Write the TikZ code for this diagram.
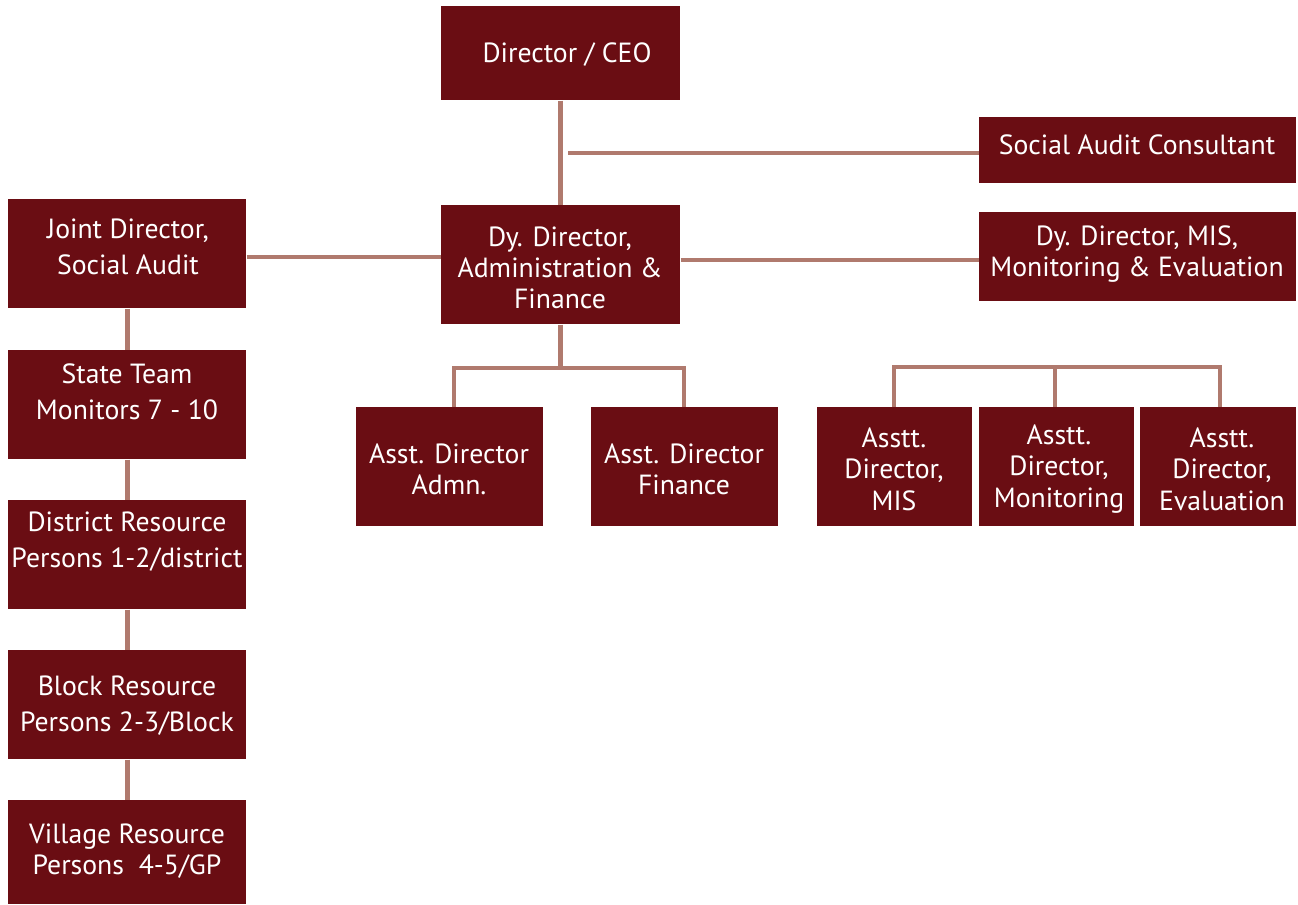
\documentclass[tikz,border=0pt]{standalone}
\usepackage{fontspec}
\setmainfont{PT Sans}
\definecolor{boxred}{HTML}{6A0D13}
\definecolor{linkred}{HTML}{B07A6E}
\tikzset{
  unit/.style={fill=boxred, inner sep=0pt, anchor=north west},
  txt/.style={text=white, align=center, font=\fontsize{20.8}{23.5}\selectfont},
  txtl/.style={txt, font=\fontsize{20.8}{27}\selectfont},
  link/.style={draw=linkred, line width=3.6pt}
}
\begin{document}
\begin{tikzpicture}[x=0.75pt, y=-0.75pt]
    \useasboundingbox (0,0) rectangle (1298,905);

    % boxes
    \node[unit, minimum width=239*0.75pt, minimum height=94*0.75pt] (ceo) at (441,6) {};
    \node[unit, minimum width=317*0.75pt, minimum height=66*0.75pt] (sac) at (979,117) {};
    \node[unit, minimum width=239*0.75pt, minimum height=119*0.75pt] (dyaf) at (441,205) {};
    \node[unit, minimum width=238*0.75pt, minimum height=109*0.75pt] (jd) at (8,199) {};
    \node[unit, minimum width=317*0.75pt, minimum height=89*0.75pt] (dymis) at (979,212) {};
    \node[unit, minimum width=238*0.75pt, minimum height=109*0.75pt] (st) at (8,350) {};
    \node[unit, minimum width=238*0.75pt, minimum height=109*0.75pt] (drp) at (8,500) {};
    \node[unit, minimum width=238*0.75pt, minimum height=109*0.75pt] (brp) at (8,650) {};
    \node[unit, minimum width=238*0.75pt, minimum height=104*0.75pt] (vrp) at (8,800) {};
    \node[unit, minimum width=187*0.75pt, minimum height=119*0.75pt] (adadm) at (356,407) {};
    \node[unit, minimum width=187*0.75pt, minimum height=119*0.75pt] (adfin) at (591,407) {};
    \node[unit, minimum width=155*0.75pt, minimum height=119*0.75pt] (admis) at (817,407) {};
    \node[unit, minimum width=155*0.75pt, minimum height=119*0.75pt] (admon) at (979,407) {};
    \node[unit, minimum width=156*0.75pt, minimum height=119*0.75pt] (adeval) at (1140,407) {};

    % texts
    \node[txt] (ceo-t) at (567,55) {Director / CEO};
    \node[txt] (sac-t) at (1137,145) {Social Audit Consultant};
    \node[txt] (dyaf-t) at (560,268) {Dy. Director,\\Administration \&\\Finance};
    \node[txtl] (jd-t) at (128,247) {Joint Director,\\Social Audit};
    \node[txt] (dymis-t) at (1137,254) {Dy. Director, MIS,\\Monitoring \& Evaluation};
    \node[txtl] (st-t) at (127,392) {State Team\\Monitors 7 - 10};
    \node[txtl] (drp-t) at (127,542) {District Resource\\Persons 1-2/district};
    \node[txtl] (brp-t) at (127,706) {Block Resource\\Persons 2-3/Block};
    \node[txt] (vrp-t) at (127,851) {Village Resource\\Persons~ 4-5/GP};
    \node[txt] (adadm-t) at (449,469) {Asst. Director\\Admn.};
    \node[txt] (adfin-t) at (684,469) {Asst. Director\\Finance};
    \node[txt] (admis-t) at (894,469) {Asstt.\\Director,\\MIS};
    \node[txt] (admon-t) at (1059,469) {Asstt.\\Director,\\Monitoring};
    \node[txt] (adeval-t) at (1222,469) {Asstt.\\Director,\\Evaluation};

    % connectors
    \coordinate (sacend) at (568,153);
    \coordinate (split) at (dyaf.south |- 0,368);
    \draw[link] (ceo.south) -- (dyaf.north);
    \draw[link] (sacend) -- (sacend -| sac.west);
    \draw[link] (jd.east |- 0,257) -- (dyaf.west |- 0,257);
    \draw[link] (dyaf.east |- 0,260) -- (dymis.west |- 0,260);
    \draw[link] (dyaf.south) -- (split);
    \draw[link] (454,407) -- (454,368) -- (684,368) -- (684,407);
    \draw[link] (894,407) -- (894,367) -- (1220,367) -- (1220,407);
    \draw[link] (1055,367) -- (1055,407);
    \draw[link] (jd.south) -- (st.north);
    \draw[link] (st.south) -- (drp.north);
    \draw[link] (drp.south) -- (brp.north);
    \draw[link] (brp.south) -- (vrp.north);
\end{tikzpicture}
\end{document}
